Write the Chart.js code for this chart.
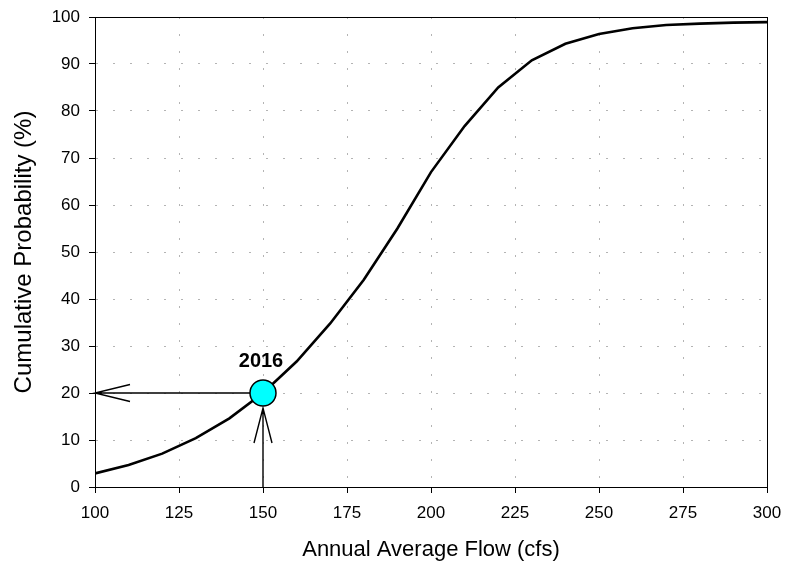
<!DOCTYPE html>
<html>
<head>
<meta charset="utf-8">
<script src="https://cdn.jsdelivr.net/npm/chart.js@4/dist/chart.umd.min.js"></script>
<style>
  html, body { margin: 0; padding: 0; background: #fff; }
  #wrap { width: 785px; height: 567px; }
</style>
</head>
<body>
<div id="wrap"><canvas id="cdf-chart" width="785" height="567"></canvas></div>
<script>
// cumulative probability curve of annual average flow
const flows = [100, 110, 120, 130, 140, 150, 160, 170, 180, 190, 200,
               210, 220, 230, 240, 250, 260, 270, 280, 290, 300];
const probs = [2.9, 4.7, 7.1, 10.4, 14.6, 20.0, 26.7, 34.8, 44.1, 55.0, 67.0,
               76.8, 85.0, 90.8, 94.3, 96.4, 97.6, 98.3, 98.6, 98.8, 98.9];

// highlighted year
const markerFlow = 150;
const markerProb = 20;
const markerLabel = '2016';

const xTitle = 'Annual Average Flow (cfs)';
const yTitle = 'Cumulative Probability (%)';

const fontFamily = '"Liberation Sans", Arial, sans-serif';

// arrows from the axes to the marker, label above it, and the plot frame
const markerExtras = {
  id: 'markerExtras',
  afterDatasetsDraw(chart) {
    const ctx = chart.ctx;
    const xs = chart.scales.x, ys = chart.scales.y;
    const px = xs.getPixelForValue(markerFlow);
    const py = ys.getPixelForValue(markerProb);
    const r = 13;
    ctx.save();
    ctx.strokeStyle = '#000';
    ctx.lineWidth = 1.4;
    ctx.lineCap = 'butt';

    // horizontal arrow towards the y axis
    const hx = xs.getPixelForValue(xs.min);
    ctx.beginPath();
    ctx.moveTo(px - r, py);
    ctx.lineTo(hx, py);
    ctx.moveTo(hx + 35, py - 8.5);
    ctx.lineTo(hx, py);
    ctx.lineTo(hx + 35, py + 8.5);
    ctx.stroke();

    // vertical arrow from the x axis
    const vy = ys.getPixelForValue(ys.min);
    const tip = py + r + 2;
    ctx.beginPath();
    ctx.moveTo(px, vy);
    ctx.lineTo(px, tip);
    ctx.moveTo(px - 9, tip + 35);
    ctx.lineTo(px, tip);
    ctx.lineTo(px + 9, tip + 35);
    ctx.stroke();

    // marker circle redrawn on top of the arrow ends
    ctx.beginPath();
    ctx.arc(px, py, r, 0, Math.PI * 2);
    ctx.fillStyle = '#00ffff';
    ctx.fill();
    ctx.lineWidth = 1.5;
    ctx.stroke();

    ctx.fillStyle = '#000';
    ctx.font = 'bold 20px ' + fontFamily;
    ctx.textAlign = 'center';
    ctx.textBaseline = 'alphabetic';
    ctx.fillText(markerLabel, px - 2, py - 26);

    const a = chart.chartArea;
    ctx.lineWidth = 1;
    ctx.strokeRect(Math.round(a.left) + 0.5, Math.round(a.top) + 0.5,
                   Math.round(a.right - a.left), Math.round(a.bottom - a.top));
    ctx.restore();
  }
};

const chart = new Chart(document.getElementById('cdf-chart'), {
  type: 'line',
  plugins: [markerExtras],
  data: {
    datasets: [
      {
        label: 'CDF',
        data: flows.map((f, i) => ({ x: f, y: probs[i] })),
        borderColor: '#000',
        borderWidth: 2.6,
        pointRadius: 0,
        tension: 0,
        fill: false
      }
    ]
  },
  options: {
    responsive: false,
    animation: false,
    layout: { padding: { left: 0, top: 17, right: 18, bottom: 0 } },
    plugins: {
      legend: { display: false },
      tooltip: { enabled: false }
    },
    scales: {
      x: {
        type: 'linear',
        min: 100,
        max: 300,
        afterFit: (s) => { s.height = 80; s.paddingLeft = 0; s.paddingRight = 0; },
        ticks: {
          stepSize: 25,
          color: '#000',
          padding: 10,
          font: { family: fontFamily, size: 17 }
        },
        grid: {
          color: '#b4b4b4',
          lineWidth: 1,
          tickColor: '#000',
          tickLength: 6,
          tickWidth: 1
        },
        border: { display: true, color: '#000', dash: [2, 15] },
        title: {
          display: true,
          text: xTitle,
          color: '#000',
          padding: { top: 0, bottom: 4 },
          font: { family: fontFamily, size: 22 }
        }
      },
      y: {
        min: 0,
        max: 100,
        afterFit: (s) => { s.width = 95; s.paddingTop = 0; s.paddingBottom = 0; },
        ticks: {
          stepSize: 10,
          color: '#000',
          padding: 9,
          font: { family: fontFamily, size: 17 }
        },
        grid: {
          color: '#b4b4b4',
          lineWidth: 1,
          tickColor: '#000',
          tickLength: 6,
          tickWidth: 1
        },
        border: { display: true, color: '#000', dash: [2, 15] },
        title: {
          display: true,
          text: yTitle,
          color: '#000',
          padding: { top: 10, bottom: 0 },
          font: { family: fontFamily, size: 24 }
        }
      }
    }
  }
});
</script>
</body>
</html>
